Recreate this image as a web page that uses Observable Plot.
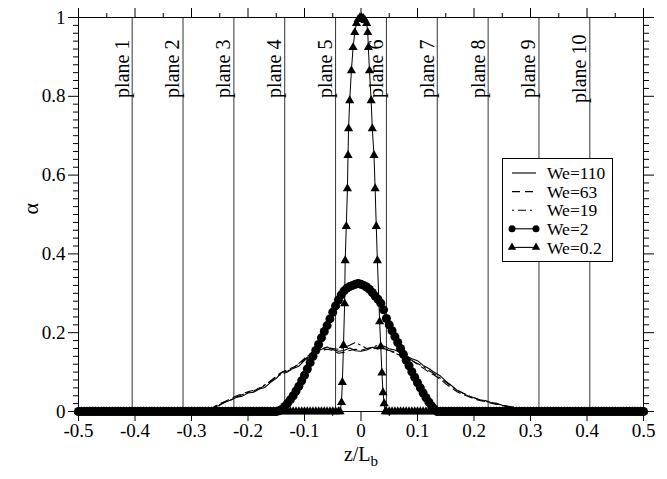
<!DOCTYPE html>
<html><head><meta charset="utf-8">
<script src="https://cdn.jsdelivr.net/npm/d3@7"></script>
<script src="https://cdn.jsdelivr.net/npm/@observablehq/plot@0.6"></script>
<style>
body{margin:0;background:#fff;}
#wrap{position:relative;width:667px;height:479px;font-family:"Liberation Serif",serif;}
#legend{position:absolute;left:502px;top:158px;width:111px;height:104px;background:#fff;border:1px solid #000;box-sizing:border-box;}
#legend svg{display:block;}
</style></head>
<body><div id="wrap"><div id="chart"></div><div id="legend"></div></div>
<script>
const seriesNames = ["We=110","We=63","We=19","We=2","We=0.2"];
const planeZ = [-0.405,-0.315,-0.225,-0.135,-0.045,0.045,0.135,0.225,0.315,0.405];
const planeLabels = ["plane 1","plane 2","plane 3","plane 4","plane 5","plane 6","plane 7","plane 8","plane 9","plane 10"];
const xMajor = [-0.5,-0.4,-0.3,-0.2,-0.1,0,0.1,0.2,0.3,0.4,0.5];
const xMinor = [-0.45,-0.35,-0.25,-0.15,-0.05,0.05,0.15,0.25,0.35,0.45];
const yMajor = [0,0.2,0.4,0.6,0.8,1];
const yMinor = [0.02,0.04,0.06,0.08,0.1,0.12,0.14,0.16,0.18,0.22,0.24,0.26,0.28,0.3,0.32,0.34,0.36,0.38,0.42,0.44,0.46,0.48,0.5,0.52,0.54,0.56,0.58,0.62,0.64,0.66,0.68,0.7,0.72,0.74,0.76,0.78,0.82,0.84,0.86,0.88,0.9,0.92,0.94,0.96,0.98];

// sample positions of the markers lying on alpha = 0
const zeroZ = [-0.5,-0.495,-0.49,-0.485,-0.48,-0.475,-0.47,-0.465,-0.46,-0.455,-0.45,-0.445,-0.44,-0.435,-0.43,-0.425,-0.42,-0.415,-0.41,-0.405,-0.4,-0.395,-0.39,-0.385,-0.38,-0.375,-0.37,-0.365,-0.36,-0.355,-0.35,-0.345,-0.34,-0.335,-0.33,-0.325,-0.32,-0.315,-0.31,-0.305,-0.3,-0.295,-0.29,-0.285,-0.28,-0.275,-0.27,-0.265,-0.26,-0.255,-0.25,-0.245,-0.24,-0.235,-0.23,-0.225,-0.22,-0.215,-0.21,-0.205,-0.2,-0.195,-0.19,-0.185,-0.18,-0.175,-0.17,-0.165,-0.16,-0.155,-0.15,-0.145,-0.14,-0.135,-0.13,-0.125,-0.12,-0.115,-0.11,-0.105,-0.1,-0.095,-0.09,-0.085,-0.08,-0.075,-0.07,-0.065,-0.06,-0.055,-0.05,-0.045,-0.04,
  0.045,0.05,0.055,0.06,0.065,0.07,0.075,0.08,0.085,0.09,0.095,0.1,0.105,0.11,0.115,0.12,0.125,0.13,0.135,0.14,0.145,0.15,0.155,0.16,0.165,0.17,0.175,0.18,0.185,0.19,0.195,0.2,0.205,0.21,0.215,0.22,0.225,0.23,0.235,0.24,0.245,0.25,0.255,0.26,0.265,0.27,0.275,0.28,0.285,0.29,0.295,0.3,0.305,0.31,0.315,0.32,0.325,0.33,0.335,0.34,0.345,0.35,0.355,0.36,0.365,0.37,0.375,0.38,0.385,0.39,0.395,0.4,0.405,0.41,0.415,0.42,0.425,0.43,0.435,0.44,0.445,0.45,0.455,0.46,0.465,0.47,0.475,0.48,0.485,0.49,0.495,0.5];

// We=2 hump
const we2Z = [-0.15,-0.145,-0.14,-0.135,-0.13,-0.125,-0.12,-0.115,-0.11,-0.105,-0.1,-0.095,-0.09,-0.085,-0.08,-0.075,-0.07,-0.065,-0.06,-0.055,-0.05,-0.045,-0.04,-0.035,-0.03,-0.025,-0.02,-0.015,-0.01,-0.005,0,0.005,0.01,0.015,0.02,0.025,0.03,0.035,0.04,0.045,0.05,0.055,0.06,0.065,0.07,0.075,0.08,0.085,0.09,0.095,0.1,0.105,0.11,0.115,0.12,0.125,0.13,0.135];
const we2A = [0,0.002,0.006,0.013,0.021,0.03,0.04,0.052,0.064,0.078,0.092,0.108,0.124,0.14,0.155,0.17,0.187,0.203,0.218,0.235,0.252,0.268,0.283,0.296,0.306,0.313,0.317,0.32,0.323,0.325,0.323,0.32,0.316,0.31,0.302,0.293,0.285,0.275,0.258,0.236,0.22,0.205,0.19,0.175,0.16,0.145,0.13,0.116,0.101,0.087,0.073,0.06,0.047,0.035,0.024,0.014,0.006,0];

// We=0.2 spike
const we02Z = [-0.037,-0.0345,-0.033,-0.031,-0.029,-0.028,-0.026,-0.024,-0.023,-0.022,-0.02,-0.017,-0.014,-0.011,-0.008,-0.005,-0.002,0.001,0.004,0.007,0.01,0.012,0.013,0.015,0.018,0.02,0.023,0.025,0.027,0.029,0.033,0.035,0.037,0.039,0.041,0.043];
const we02A = [0,0.023,0.074,0.168,0.274,0.383,0.47,0.566,0.65,0.718,0.789,0.865,0.924,0.962,0.985,0.995,1.0,1.0,0.998,0.993,0.985,0.962,0.924,0.865,0.789,0.718,0.65,0.566,0.47,0.383,0.228,0.165,0.098,0.048,0.02,0];

// noisy curves
const lineZ = [-0.29,-0.28,-0.27,-0.26,-0.25,-0.24,-0.23,-0.22,-0.21,-0.2,-0.19,-0.18,-0.17,-0.16,-0.15,-0.14,-0.13,-0.12,-0.11,-0.1,-0.09,-0.08,-0.07,-0.06,-0.05,-0.04,-0.03,-0.02,-0.01,0,0.01,0.02,0.03,0.04,0.05,0.06,0.07,0.08,0.09,0.1,0.11,0.12,0.13,0.14,0.15,0.16,0.17,0.18,0.19,0.2,0.21,0.22,0.23,0.24,0.25,0.26,0.27,0.28,0.29,0.3];
const we110A = [0,0.002,0.005,0.011,0.016,0.024,0.029,0.036,0.039,0.047,0.049,0.057,0.061,0.074,0.084,0.099,0.103,0.109,0.115,0.13,0.139,0.153,0.158,0.164,0.157,0.153,0.155,0.161,0.154,0.153,0.156,0.163,0.159,0.166,0.159,0.156,0.149,0.141,0.134,0.129,0.117,0.109,0.099,0.091,0.077,0.066,0.054,0.047,0.039,0.035,0.029,0.028,0.023,0.021,0.016,0.014,0.009,0.007,0.003,0];
const we63A = [0,0,0.005,0.012,0.02,0.026,0.033,0.04,0.045,0.05,0.054,0.058,0.066,0.078,0.09,0.1,0.106,0.112,0.12,0.132,0.143,0.15,0.155,0.158,0.155,0.148,0.15,0.155,0.158,0.155,0.16,0.158,0.163,0.158,0.155,0.15,0.143,0.137,0.13,0.12,0.11,0.1,0.092,0.082,0.07,0.06,0.05,0.043,0.038,0.032,0.028,0.025,0.021,0.018,0.015,0.012,0.009,0.005,0.002,0];
const we19A = [0,0,0.004,0.011,0.018,0.025,0.03,0.037,0.043,0.048,0.052,0.06,0.068,0.076,0.088,0.095,0.1,0.11,0.122,0.135,0.145,0.155,0.16,0.162,0.16,0.158,0.162,0.168,0.175,0.168,0.16,0.163,0.168,0.16,0.155,0.148,0.142,0.135,0.128,0.122,0.114,0.104,0.095,0.085,0.075,0.064,0.054,0.047,0.04,0.035,0.03,0.026,0.022,0.019,0.016,0.013,0.011,0.008,0.004,0];

// build tables
const pairs = (zs, as) => zs.map((z, i) => ({z, a: as[i]}));
const we2 = [...zeroZ.filter(z => z <= -0.155).map(z => ({z, a: 0})), ...pairs(we2Z, we2A), ...zeroZ.filter(z => z >= 0.14).map(z => ({z, a: 0}))];
const we02 = [...zeroZ.filter(z => z < 0).map(z => ({z, a: 0})), ...pairs(we02Z, we02A), ...zeroZ.filter(z => z > 0).map(z => ({z, a: 0}))];
const we110 = pairs(lineZ, we110A);
const we63 = pairs(lineZ, we63A);
const we19 = pairs(lineZ, we19A);

const noLabel = () => "";
const fmt = d => String(d);
const serif = "'Liberation Serif', serif";

const plot = Plot.plot({
  width: 667, height: 479,
  marginLeft: 78, marginRight: 24, marginTop: 17, marginBottom: 68,
  x: {domain: [-0.5, 0.5], axis: null},
  y: {domain: [0, 1], axis: null},
  style: {fontFamily: serif, fontSize: "19px", color: "#000", background: "#fff", overflow: "visible"},
  marks: [
    Plot.ruleX(planeZ, {x: d => d, stroke: "#333", strokeWidth: 1}),
    Plot.text(planeZ, {x: d => d, y: 0.87, text: (d, i) => planeLabels[i], rotate: -90, dx: -10, fontSize: 20, fill: "#000", fontFamily: serif}),
    Plot.frame({stroke: "#000", strokeWidth: 1}),
    Plot.axisX({ticks: xMajor, anchor: "bottom", tickSize: 10, tickPadding: 2, tickFormat: fmt, label: null, fontSize: 19, fontFamily: serif}),
    Plot.axisX({ticks: xMinor, anchor: "bottom", tickSize: 5, tickFormat: noLabel, label: null}),
    Plot.axisX({ticks: xMajor, anchor: "top", tickSize: 10, tickFormat: noLabel, label: null}),
    Plot.axisX({ticks: xMinor, anchor: "top", tickSize: 5, tickFormat: noLabel, label: null}),
    Plot.axisY({ticks: yMajor, anchor: "left", tickSize: 10, tickPadding: 3, tickFormat: fmt, label: null, fontSize: 19, fontFamily: serif}),
    Plot.axisY({ticks: yMinor, anchor: "left", tickSize: 5, tickFormat: noLabel, label: null}),
    Plot.axisY({ticks: yMajor, anchor: "right", tickSize: 10, tickFormat: noLabel, label: null}),
    Plot.axisY({ticks: yMinor, anchor: "right", tickSize: 5, tickFormat: noLabel, label: null}),
    Plot.line(we110, {x: "z", y: "a", stroke: "#000", strokeWidth: 1.1}),
    Plot.line(we63, {x: "z", y: "a", stroke: "#000", strokeWidth: 1.1, strokeDasharray: "8,5"}),
    Plot.line(we19, {x: "z", y: "a", stroke: "#000", strokeWidth: 1.1, strokeDasharray: "2,4,8,4"}),
    Plot.line(we2, {x: "z", y: "a", stroke: "#000", strokeWidth: 1}),
    Plot.dot(we2, {x: "z", y: "a", r: 4.5, fill: "#000", stroke: "none"}),
    Plot.line(we02, {x: "z", y: "a", stroke: "#000", strokeWidth: 1}),
    Plot.dot(we02, {x: "z", y: "a", r: 3.4, symbol: "triangle", fill: "#000", stroke: "none"}),
    Plot.text(["z/L"], {frameAnchor: "bottom", dy: 49, text: d => d, fontSize: 20, fontFamily: serif, className: "xtitle"}),
    Plot.text(["α"], {frameAnchor: "left", dx: -48, rotate: -90, text: d => d, fontSize: 22, fontFamily: serif})
  ]
});
document.getElementById("chart").appendChild(plot);
d3.select(plot).selectAll(".xtitle text").append("tspan").attr("dy", "0.35em").attr("font-size", "15px").text("b");

// legend
const lg = d3.select("#legend").append("svg").attr("width", 109).attr("height", 102)
  .style("font-family", serif);
const dashes = [null, "8,5", "2,4,8,4", null, null];
seriesNames.forEach((name, i) => {
  const cy = 14 + i * 18.6;
  lg.append("line").attr("x1", 9).attr("x2", 33).attr("y1", cy).attr("y2", cy)
    .attr("stroke", "#000").attr("stroke-width", 1.1).attr("stroke-dasharray", dashes[i]);
  if (i === 3) {
    [9, 33].forEach(cx => lg.append("circle").attr("cx", cx).attr("cy", cy).attr("r", 3.5).attr("fill", "#000"));
  }
  if (i === 4) {
    [9, 33].forEach(cx => lg.append("path").attr("d", d3.symbol(d3.symbolTriangle, 30)()).attr("transform", `translate(${cx},${cy})`).attr("fill", "#000"));
  }
  lg.append("text").attr("x", 44).attr("y", cy).attr("dy", "0.35em").attr("font-size", 17.5).text(name);
});
</script>
</body></html>
